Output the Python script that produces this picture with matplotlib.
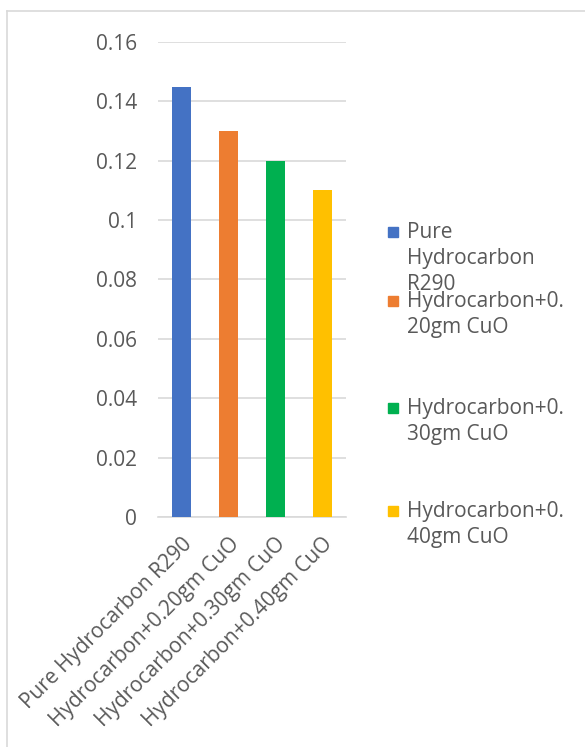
import matplotlib
matplotlib.use("Agg")
import matplotlib.pyplot as plt
from matplotlib.patches import Rectangle
from matplotlib.lines import Line2D

categories = ["Pure Hydrocarbon R290", "Hydrocarbon+0.20gm CuO",
              "Hydrocarbon+0.30gm CuO", "Hydrocarbon+0.40gm CuO"]
values = [0.145, 0.13, 0.12, 0.11]
legend_labels = ["Pure\nHydrocarbon\nR290", "Hydrocarbon+0.\n20gm CuO",
                 "Hydrocarbon+0.\n30gm CuO", "Hydrocarbon+0.\n40gm CuO"]
colors = ["#4472C4", "#ED7D31", "#00B050", "#FFC000"]
yticks = [0, 0.02, 0.04, 0.06, 0.08, 0.1, 0.12, 0.14, 0.16]
ytick_labels = ["0", "0.02", "0.04", "0.06", "0.08", "0.1", "0.12", "0.14", "0.16"]

plt.rcParams['font.family'] = ['Open Sans', 'DejaVu Sans']
txt = "#595959"

fig = plt.figure(figsize=(5.85, 7.47), dpi=100)
ax = fig.add_axes([0.270, 0.3079, 0.321, 0.6359])

x = list(range(len(categories)))
ax.bar(x, values, width=0.4, color=colors, zorder=3)
ax.set_xlim(-0.5, len(categories) - 0.5)
ax.set_ylim(0, 0.16)
ax.set_yticks(yticks)
ax.set_yticklabels(ytick_labels, fontsize=15, color=txt)
ax.set_xticks(x)
ax.set_xticklabels(categories, rotation=45, ha='right', rotation_mode='anchor',
                   fontsize=15, color=txt)
ax.tick_params(axis='both', length=0)
ax.tick_params(axis='y', pad=15)
ax.tick_params(axis='x', pad=12)
ax.grid(axis='y', color="#D9D9D9", linewidth=1.2, zorder=0)
for s in ['top', 'right', 'left']:
    ax.spines[s].set_visible(False)
ax.spines['bottom'].set_color("#D9D9D9")
ax.spines['bottom'].set_linewidth(1.2)

# legend drawn by hand so the marker sits on the first line of each wrapped label
W, H = 585, 747
leg_y = [232, 301, 408, 511]
for lab, c, yy in zip(legend_labels, colors, leg_y):
    fig.patches.append(Rectangle((388 / W, (H - yy - 5) / H), 10 / W, 10 / H,
                                 transform=fig.transFigure, color=c))
    fig.text(407 / W, (H - yy + 10) / H, lab, fontsize=15, color=txt, va='top',
             ha='left', linespacing=1.3, transform=fig.transFigure)

# outer chart border (only top and left visible)
fig.add_artist(Line2D([7 / W, 7 / W], [0, (H - 11) / H], color="#D9D9D9", lw=1.2))
fig.add_artist(Line2D([7 / W, 1], [(H - 11) / H, (H - 11) / H], color="#D9D9D9", lw=1.2))

fig.savefig("out.png", dpi=100)
